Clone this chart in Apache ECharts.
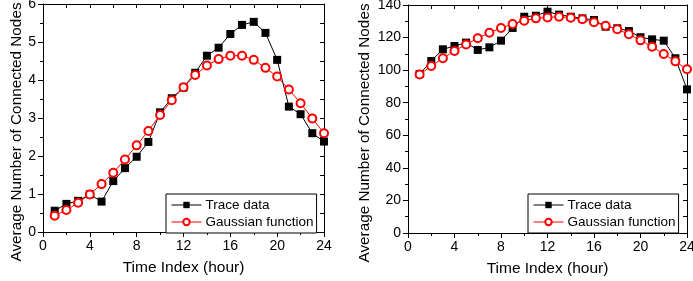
<!DOCTYPE html>
<html>
<head>
<meta charset="utf-8">
<script src="https://cdn.jsdelivr.net/npm/echarts@6/dist/echarts.min.js"></script>
<style>
  html, body { margin: 0; padding: 0; background: #fff; }
  #chart { width: 693px; height: 281px; }
</style>
</head>
<body>
<div id="chart"></div>
<script>
// hours 1..24
const hours = [1, 2, 3, 4, 5, 6, 7, 8, 9, 10, 11, 12, 13, 14, 15, 16, 17, 18, 19, 20, 21, 22, 23, 24];

// left panel
const traceLeft = [0.56, 0.74, 0.82, 0.99, 0.80, 1.34, 1.68, 1.98, 2.37, 3.15, 3.52, 3.80, 4.19, 4.64, 4.85, 5.21, 5.45, 5.53, 5.24, 4.53, 3.30, 3.10, 2.60, 2.38];
const gaussLeft = [0.43, 0.58, 0.77, 0.99, 1.26, 1.56, 1.91, 2.28, 2.66, 3.08, 3.47, 3.81, 4.13, 4.38, 4.55, 4.64, 4.64, 4.53, 4.32, 4.09, 3.75, 3.39, 2.99, 2.60];

// right panel
const traceRight = [97.6, 105.6, 112.8, 114.8, 116.9, 112.4, 114.0, 118.1, 125.9, 132.8, 133.4, 135.9, 134.1, 132.8, 131.8, 130.8, 126.7, 125.7, 124.0, 120.2, 118.9, 118.1, 107.3, 88.2];
const gaussRight = [97.4, 102.5, 107.3, 111.8, 115.8, 119.6, 123.0, 125.9, 128.3, 130.4, 131.8, 132.4, 132.8, 132.2, 131.2, 129.4, 127.3, 125.1, 122.0, 118.3, 114.4, 109.9, 105.4, 100.5];

const xLabel = "Time Index (hour)";
const yLabel = "Average Number of Connected Nodes";
const legendNames = ["Trace data", "Gaussian function"];

const FONT = "Liberation Sans";

function pairs(ys) {
  return hours.map((h, i) => [h, ys[i]]);
}

function bottomAxis(grid) {
  return {
    gridIndex: grid, type: "value", min: 0, max: 24, interval: 4,
    position: "bottom",
    axisLine: { show: true, onZero: false, lineStyle: { color: "#000", width: 1 } },
    axisTick: { show: true, inside: false, length: 5, lineStyle: { color: "#000" } },
    minorTick: { show: true, splitNumber: 2, length: 3, lineStyle: { color: "#000" } },
    splitLine: { show: false },
    axisLabel: { color: "#000", fontSize: 14, fontFamily: FONT, margin: 7 },
    name: xLabel, nameLocation: "middle", nameGap: 28,
    nameTextStyle: { color: "#000", fontSize: 15.5, fontFamily: FONT }
  };
}

function topAxis(grid) {
  return {
    gridIndex: grid, type: "value", min: 0, max: 24, interval: 2,
    position: "top",
    axisLine: { show: true, onZero: false, lineStyle: { color: "#000", width: 1 } },
    axisTick: { show: true, inside: true, length: 4, lineStyle: { color: "#000" } },
    axisLabel: { show: false },
    splitLine: { show: false }
  };
}

function leftAxis(grid, max, step, gap) {
  return {
    gridIndex: grid, type: "value", min: 0, max: max, interval: step,
    position: "left",
    axisLine: { show: true, onZero: false, lineStyle: { color: "#000", width: 1 } },
    axisTick: { show: true, inside: false, length: 5, lineStyle: { color: "#000" } },
    minorTick: { show: true, splitNumber: 2, length: 3, lineStyle: { color: "#000" } },
    splitLine: { show: false },
    axisLabel: { color: "#000", fontSize: 14, fontFamily: FONT, margin: 7 },
    name: yLabel, nameLocation: "middle", nameGap: gap,
    // a bit lower than the axis middle, like the original
    nameTextStyle: { color: "#000", fontSize: 15.3, fontFamily: FONT, padding: [0, 28, 0, 0] }
  };
}

function rightAxis(grid, max, step) {
  return {
    gridIndex: grid, type: "value", min: 0, max: max, interval: step,
    position: "right",
    axisLine: { show: true, onZero: false, lineStyle: { color: "#000", width: 1 } },
    axisTick: { show: true, inside: true, length: 4, lineStyle: { color: "#000" } },
    axisLabel: { show: false },
    splitLine: { show: false }
  };
}

function traceSeries(idx, ys) {
  return {
    name: legendNames[0], type: "line", xAxisIndex: idx, yAxisIndex: idx,
    data: pairs(ys), symbol: "rect", symbolSize: 8,
    itemStyle: { color: "#000" },
    lineStyle: { color: "#000", width: 1 },
    z: 2
  };
}

function gaussSeries(idx, ys) {
  return {
    name: legendNames[1], type: "line", xAxisIndex: idx, yAxisIndex: idx,
    data: pairs(ys), symbol: "circle", symbolSize: 8,
    itemStyle: { color: "#fff", borderColor: "#f00", borderWidth: 2 },
    lineStyle: { color: "#f00", width: 1 },
    z: 3
  };
}

function legendAt(left, top) {
  return {
    data: legendNames, orient: "vertical", left: left, top: top,
    backgroundColor: "#fff",
    borderColor: "#000", borderWidth: 1, borderRadius: 0,
    padding: [4, 3, 4, 5], itemGap: 3, itemWidth: 30, itemHeight: 8,
    lineStyle: { width: 1 },
    textStyle: { color: "#000", fontSize: 13.5, fontFamily: FONT, padding: [0, 0, 0, -1] },
    selectedMode: false
  };
}

const chart = echarts.init(document.getElementById("chart"));
chart.setOption({
  animation: false,
  grid: [
    { left: 43, top: 4, width: 281, height: 228, outerBoundsMode: "none" },
    { left: 408, top: 5, width: 279, height: 228, outerBoundsMode: "none" }
  ],
  xAxis: [bottomAxis(0), bottomAxis(1), topAxis(0), topAxis(1)],
  yAxis: [leftAxis(0, 6, 1, 17), leftAxis(1, 140, 20, 36), rightAxis(0, 6, 0.5), rightAxis(1, 140, 10)],
  legend: [legendAt(166, 194), legendAt(528, 194)],
  series: [
    traceSeries(0, traceLeft),
    gaussSeries(0, gaussLeft),
    traceSeries(1, traceRight),
    gaussSeries(1, gaussRight)
  ]
});
</script>
</body>
</html>
